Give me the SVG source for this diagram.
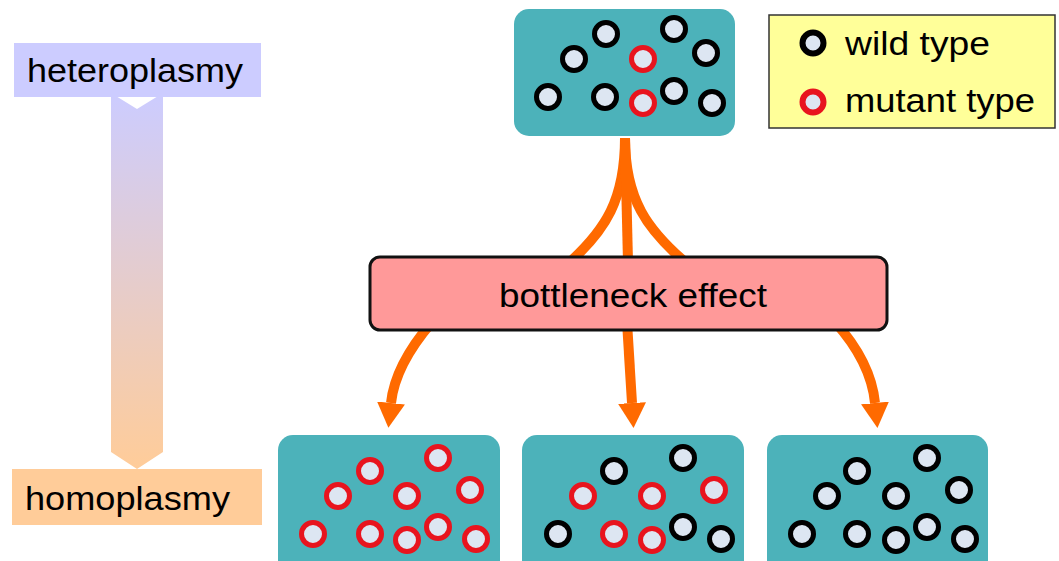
<svg xmlns="http://www.w3.org/2000/svg" width="1059" height="561" viewBox="0 0 1059 561">
<style>
.box{fill:#4CB2BA}
.w{fill:#DDE6F2;stroke:#000;stroke-width:5}
.m{fill:#DDE6F2;stroke:#E8141E;stroke-width:5}
.lw{fill:#DDE6F2;stroke:#000;stroke-width:6}
.lm{fill:#DDE6F2;stroke:#E8141E;stroke-width:6}
.t{font-family:"Liberation Sans",Arial,sans-serif;font-size:34px;fill:#000}
.c{fill:none;stroke:#FF6A00;stroke-width:10}
</style>
<defs>
<linearGradient id="g" x1="0" y1="0" x2="0" y2="1">
<stop offset="0" stop-color="#CCCCFF"/>
<stop offset="1" stop-color="#FFCC99"/>
</linearGradient>
<marker id="ah" viewBox="0 0 25 28" refX="0" refY="14" markerWidth="25" markerHeight="28" markerUnits="userSpaceOnUse" orient="auto">
<path d="M0,0 L25,14 L0,28 z" fill="#FF6A00"/>
</marker>
</defs>
<rect width="1059" height="561" fill="#fff"/>

<g id="gradient-arrow">
<polygon points="111,93 137,109 163,93 163,452 137,469 111,452" fill="url(#g)"/>
</g>
<g id="heteroplasmy">
<rect x="14" y="43" width="247" height="54" fill="#CCCCFF"/>
<text class="t" x="27" y="82" textLength="216" lengthAdjust="spacingAndGlyphs">heteroplasmy</text>
</g>
<g id="homoplasmy">
<rect x="12" y="469" width="250" height="56" fill="#FFCC99"/>
<text class="t" x="25" y="510" textLength="205" lengthAdjust="spacingAndGlyphs">homoplasmy</text>
</g>

<g id="connectors">
<path class="c" d="M625,138 C625,200 605,230 570,262"/>
<path class="c" d="M625,138 C625,200 648,230 685,262"/>
<path class="c" d="M625,138 L628,262"/>
<path class="c" d="M432,322 Q395,365 391,403" marker-end="url(#ah)"/>
<path class="c" d="M627,322 L632,403" marker-end="url(#ah)"/>
<path class="c" d="M835,322 Q871,362 875,403" marker-end="url(#ah)"/>
</g>

<g id="top-population">
<rect class="box" x="514" y="9" width="221" height="127" rx="15"/>
<circle class="w" cx="606" cy="34" r="11.5"/>
<circle class="w" cx="674" cy="29" r="11.5"/>
<circle class="w" cx="574" cy="59" r="11.5"/>
<circle class="m" cx="643" cy="59" r="11.5"/>
<circle class="w" cx="706" cy="53" r="11.5"/>
<circle class="w" cx="548" cy="97" r="11.5"/>
<circle class="w" cx="605" cy="97" r="11.5"/>
<circle class="m" cx="643" cy="103" r="11.5"/>
<circle class="w" cx="674" cy="91" r="11.5"/>
<circle class="w" cx="712" cy="103" r="11.5"/>
</g>

<g id="legend">
<rect x="769" y="15" width="286" height="113" fill="#FFFF99" stroke="#333" stroke-width="1.5"/>
<circle class="lw" cx="813" cy="43" r="10.5"/>
<text class="t" x="845" y="55" textLength="145" lengthAdjust="spacingAndGlyphs">wild type</text>
<circle class="lm" cx="813" cy="102" r="10.5"/>
<text class="t" x="845" y="112" textLength="190" lengthAdjust="spacingAndGlyphs">mutant type</text>
</g>

<g id="bottleneck">
<rect x="370" y="257" width="517" height="73" rx="10" fill="#FF9999" stroke="#111" stroke-width="3"/>
<text class="t" x="633" y="307" text-anchor="middle" font-size="35" textLength="268" lengthAdjust="spacingAndGlyphs">bottleneck effect</text>
</g>

<g id="population-mutant">
<rect class="box" x="278" y="435" width="222" height="140" rx="15"/>
<circle class="m" cx="370" cy="471" r="11.5"/>
<circle class="m" cx="438" cy="458" r="11.5"/>
<circle class="m" cx="338" cy="496" r="11.5"/>
<circle class="m" cx="407" cy="496" r="11.5"/>
<circle class="m" cx="470" cy="490" r="11.5"/>
<circle class="m" cx="313" cy="534" r="11.5"/>
<circle class="m" cx="370" cy="534" r="11.5"/>
<circle class="m" cx="407" cy="540" r="11.5"/>
<circle class="m" cx="438" cy="527" r="11.5"/>
<circle class="m" cx="476" cy="539" r="11.5"/>
</g>

<g id="population-mixed">
<rect class="box" x="522" y="435" width="222" height="140" rx="15"/>
<circle class="w" cx="614" cy="471" r="11.5"/>
<circle class="w" cx="683" cy="458" r="11.5"/>
<circle class="m" cx="583" cy="496" r="11.5"/>
<circle class="m" cx="652" cy="496" r="11.5"/>
<circle class="m" cx="714" cy="490" r="11.5"/>
<circle class="w" cx="558" cy="534" r="11.5"/>
<circle class="m" cx="614" cy="534" r="11.5"/>
<circle class="m" cx="652" cy="540" r="11.5"/>
<circle class="w" cx="683" cy="527" r="11.5"/>
<circle class="w" cx="721" cy="539" r="11.5"/>
</g>

<g id="population-wild">
<rect class="box" x="767" y="435" width="221" height="140" rx="15"/>
<circle class="w" cx="857" cy="471" r="11.5"/>
<circle class="w" cx="927" cy="458" r="11.5"/>
<circle class="w" cx="827" cy="496" r="11.5"/>
<circle class="w" cx="896" cy="496" r="11.5"/>
<circle class="w" cx="959" cy="490" r="11.5"/>
<circle class="w" cx="802" cy="534" r="11.5"/>
<circle class="w" cx="857" cy="534" r="11.5"/>
<circle class="w" cx="896" cy="540" r="11.5"/>
<circle class="w" cx="927" cy="527" r="11.5"/>
<circle class="w" cx="965" cy="539" r="11.5"/>
</g>
</svg>
